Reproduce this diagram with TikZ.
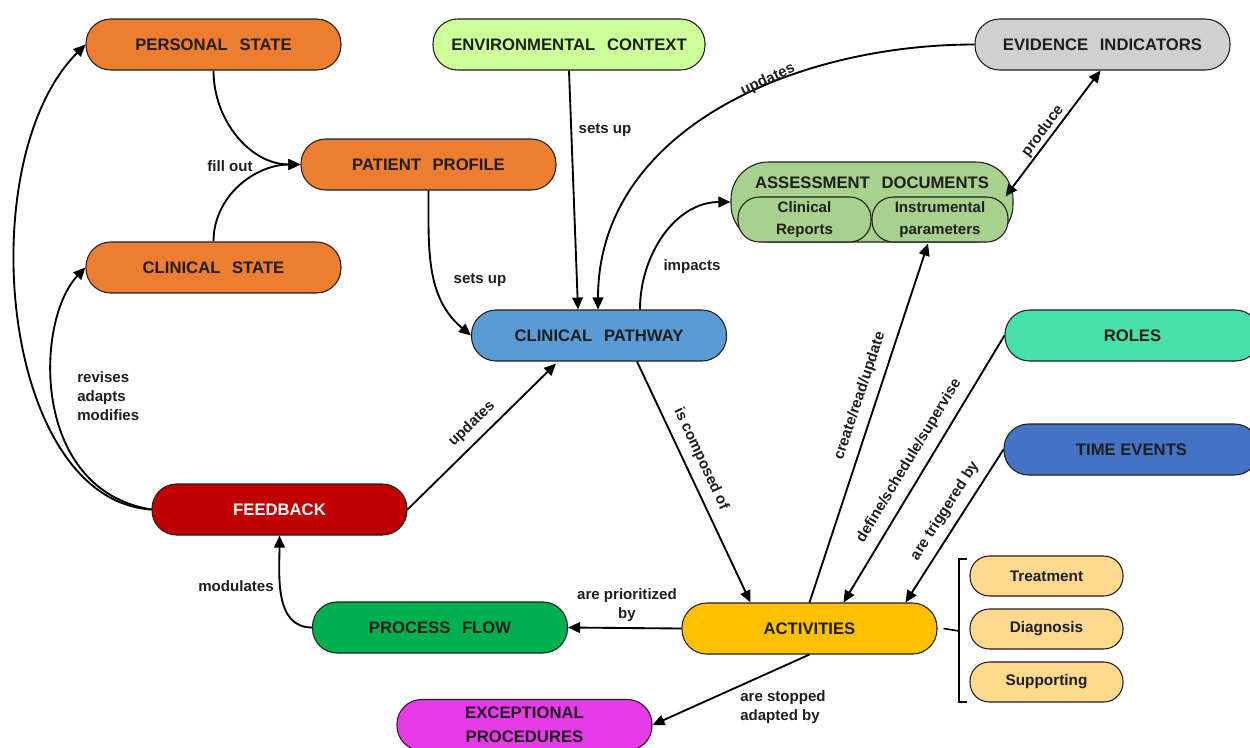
\documentclass[tikz,border=0pt]{standalone}
\usepackage{fontspec}
\setmainfont{Liberation Sans}
\usetikzlibrary{arrows.meta,calc}
\definecolor{orangeA}{HTML}{ED7D31}
\definecolor{lgreenA}{HTML}{CCFF99}
\definecolor{grayA}{HTML}{D0D0D0}
\definecolor{adA}{HTML}{A9D18E}
\definecolor{blueA}{HTML}{5B9BD5}
\definecolor{rolesA}{HTML}{47E0A8}
\definecolor{timeA}{HTML}{4472C4}
\definecolor{redA}{HTML}{C00000}
\definecolor{greenB}{HTML}{00B050}
\definecolor{yellowA}{HTML}{FFC000}
\definecolor{magentaA}{HTML}{E63BE6}
\definecolor{subA}{HTML}{FFD98E}
\definecolor{inkA}{HTML}{1E1E1E}
\newcommand{\wsp}{\hspace{0.7em}}
\begin{document}
\begin{tikzpicture}[x=0.75pt,y=-0.75pt,
  pill/.style={draw=inkA, line width=0.8pt, rounded corners=18.5pt,
    minimum width=191.25pt, minimum height=38.25pt, inner sep=0pt,
    align=center, text=inkA, font=\bfseries\fontsize{12.5}{18}\selectfont},
  subpill/.style={draw=inkA, line width=0.8pt, rounded corners=16pt,
    minimum height=33.75pt, inner sep=0pt, align=center, text=inkA,
    font=\bfseries\fontsize{11.3}{16.5}\selectfont},
  actpill/.style={draw=inkA, line width=0.8pt, rounded corners=14.5pt, fill=subA,
    minimum width=114.75pt, minimum height=30pt, inner sep=0pt, text=inkA,
    font=\bfseries\fontsize{11.5}{14}\selectfont},
  lab/.style={font=\bfseries\fontsize{11.3}{14}\selectfont, align=center,
    inner sep=0pt, text=inkA},
  arr/.style={line width=1.4pt, draw=black, -{Triangle[length=9pt,width=8pt]}},
  arrb/.style={line width=1.4pt, draw=black, {Triangle[length=9pt,width=8pt]}-{Triangle[length=9pt,width=8pt]}}
]
\useasboundingbox (0,0) rectangle (1250,747);
\clip (0,0) rectangle (1250,747);

% nodes
\node[pill, fill=orangeA] (ps) at (213.5,44.5) {PERSONAL\wsp STATE};
\node[pill, fill=lgreenA, minimum width=204pt] (ec) at (569,44.5) {ENVIRONMENTAL\wsp CONTEXT};
\node[pill, fill=grayA] (ei) at (1102.5,44.5) {EVIDENCE\wsp INDICATORS};
\node[pill, fill=orangeA] (pp) at (428.5,164.5) {PATIENT\wsp PROFILE};
\node[pill, fill=orangeA] (cs) at (213.5,267.5) {CLINICAL\wsp STATE};
\node[pill, fill=blueA] (cp) at (599,335.5) {CLINICAL\wsp PATHWAY};
\node[pill, fill=rolesA] (ro) at (1132.5,335.5) {ROLES};
\node[pill, fill=timeA] (te) at (1131.5,449.5) {TIME EVENTS};
\node[pill, fill=redA, text=white] (fb) at (279.5,509.5) {FEEDBACK};
\node[pill, fill=greenB] (pf) at (440,627.5) {PROCESS\wsp FLOW};
\node[pill, fill=yellowA] (act) at (809.5,628.5) {ACTIVITIES};
\node[pill, fill=magentaA] (ep) at (524.5,725) {EXCEPTIONAL\\PROCEDURES};

% assessment documents
\node[draw=inkA, line width=0.8pt, fill=adA, rounded corners=28pt,
  minimum width=211.5pt, minimum height=60pt, inner sep=0pt] (ad) at (872,202) {};
\node[lab, font=\bfseries\fontsize{12.5}{15}\selectfont] (adt) at (872,183) {ASSESSMENT\wsp DOCUMENTS};
\node[subpill, fill=adA, minimum width=99.75pt] (cr) at (804.5,219.5) {Clinical\\Reports};
\node[subpill, fill=adA, minimum width=102pt] (ip) at (940,219.5) {Instrumental\\parameters};

% activity kinds
\node[actpill] (tr) at (1046.5,576) {Treatment};
\node[actpill] (dg) at (1046.5,629) {Diagnosis};
\node[actpill] (su) at (1046.5,682) {Supporting};
\coordinate (bt) at (967,559);
\coordinate (bb) at (967,702);
\coordinate (bm) at (959,631);
\draw[line width=1.2pt] (bt) -- (959,559) -- (959,702) -- (bb);
\draw[line width=1.2pt] ($(act.east)+(6,0)$) -- (bm);

% connectors
\draw[arr] (ps.south) to[out=-90,in=180] (pp.west);
\draw[arr] (cs.north) to[out=90,in=180] (pp.west);
\node[lab] (l1) at (230,166) {fill out};

\draw[arr] (pp.south) to[out=-90,in=140] (cp.west);
\node[lab] (l2) at (480,280) {sets up};

\draw[arr] (ec.south) -- ($(cp.north)+(-21,0)$);
\node[lab] (l3) at (605,130) {sets up};

\draw[arr] (ei.west) to[out=180,in=90] ($(cp.north)+(-1,0)$);
\node[lab, rotate=25] (l4) at (768,80) {updates};

\draw[arr] ($(cp.north)+(41,0)$) to[out=90,in=180] (ad.west);
\node[lab] (l5) at (692,267) {impacts};

\draw[arrb] ($(ad.north east)+(-8,35)$) -- ($(ei.south)+(-2,0)$);
\node[lab, rotate=53] (l6) at (1043,131) {produce};

\draw[arr] (act.north) -- ($(ip.south)+(-12,1)$);
\node[lab, rotate=71.6] (l7) at (860,396) {create/read/update};

\draw[arr] (ro.west) -- ($(act.north)+(34,0)$);
\node[lab, rotate=58.8] (l8) at (909,461) {define/schedule/supervise};

\draw[arr] (te.west) -- ($(act.north)+(96,0)$);
\node[lab, rotate=57.3] (l9) at (945,511) {are triggered by};

\draw[arr] ($(cp.south)+(38,0)$) -- ($(act.north)+(-59,0)$);
\node[lab, rotate=-65] (l10) at (701,459) {is composed of};

\draw[arr] (act.west) -- (pf.east);
\node[lab] (l11) at (627,605) {are prioritized\\by};

\draw[arr] (act.south) -- (ep.east);
\node[lab, align=left, anchor=west] (l12) at (740,707) {are stopped\\adapted by};

\draw[arr] (pf.west) to[out=180,in=-90] (fb.south);
\node[lab] (l13) at (236,586) {modulates};

\draw[arr] (fb.east) -- ($(cp.south)+(-43,2)$);
\node[lab, rotate=44] (l14) at (472,424) {updates};

\draw[arr] (fb.west) .. controls (0,500) and (-30,160) .. (ps.west);
\draw[arr] (fb.west) .. controls (30,490) and (35,320) .. (cs.west);
\node[lab, align=left, anchor=west] (l15) at (77,396) {revises\\adapts\\modifies};
\end{tikzpicture}
\end{document}
